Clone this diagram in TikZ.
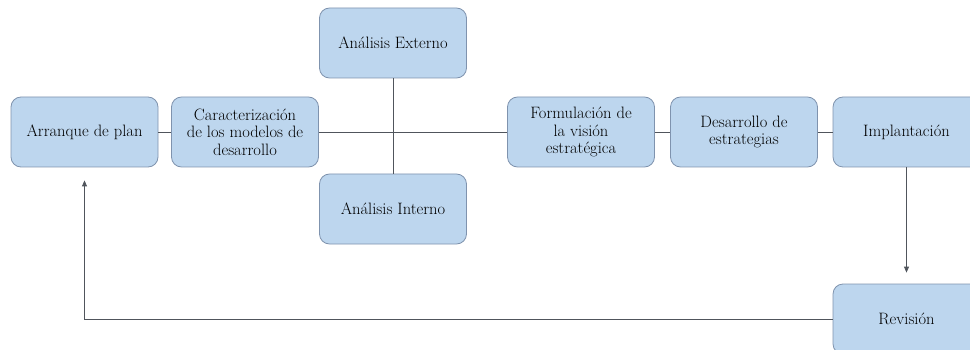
\documentclass[tikz,border=0pt]{standalone}
\usepackage{fontspec}
\usepackage{xcolor}
\usepackage{tikz}
\usetikzlibrary{arrows.meta}
\usetikzlibrary{positioning}
\definecolor{boxfill}{HTML}{BDD6EE}
\definecolor{boxline}{HTML}{7F93AE}
\definecolor{linkgray}{HTML}{50555C}
\tikzset{
    stagebox/.style = {rectangle, rounded corners=10pt, draw=boxline, fill=boxfill, line width=0.8pt, align=center, text=black, minimum width=147pt, minimum height=70pt, inner sep=2pt, font=\fontsize{16.5}{17.5}\selectfont},
    linkn/.style = {-, linkgray, line width=0.8pt},
    linka/.style = {-{Triangle[length=6pt,width=5pt]}, linkgray, line width=0.8pt},
}
\begin{document}
\begin{tikzpicture}[x=1pt, y=-1pt]
\useasboundingbox (0,0) rectangle (970,350);
\clip (0,0) rectangle (970,350);
\node[stagebox] at (84.5,132) (arr) {Arranque de plan};
\node[stagebox] at (245,132) (car) {Caracterización\\de los modelos de\\desarrollo};
\node[stagebox] at (393,43) (ext) {Análisis Externo};
\node[stagebox] at (393,209) (int) {Análisis Interno};
\node[stagebox] at (581,132) (for) {Formulación de\\la visión\\estratégica};
\node[stagebox] at (744,132) (des) {Desarrollo de\\estrategias};
\node[stagebox] at (906.5,132) (imp) {Implantación};
\node[stagebox] at (906.5,319) (rev) {Revisión};
%
\draw[linkn] (arr) -- (car);
\draw[linkn] (car) -- (for);
\draw[linkn] (ext) -- (int);
\draw[linkn] (for) -- (des);
\draw[linkn] (des) -- (imp);
%
\draw[linka, shorten >=11pt] (imp) -- (rev);
\draw[linka, shorten >=13pt] (rev.west) -| (arr.south);
\end{tikzpicture}
\end{document}
